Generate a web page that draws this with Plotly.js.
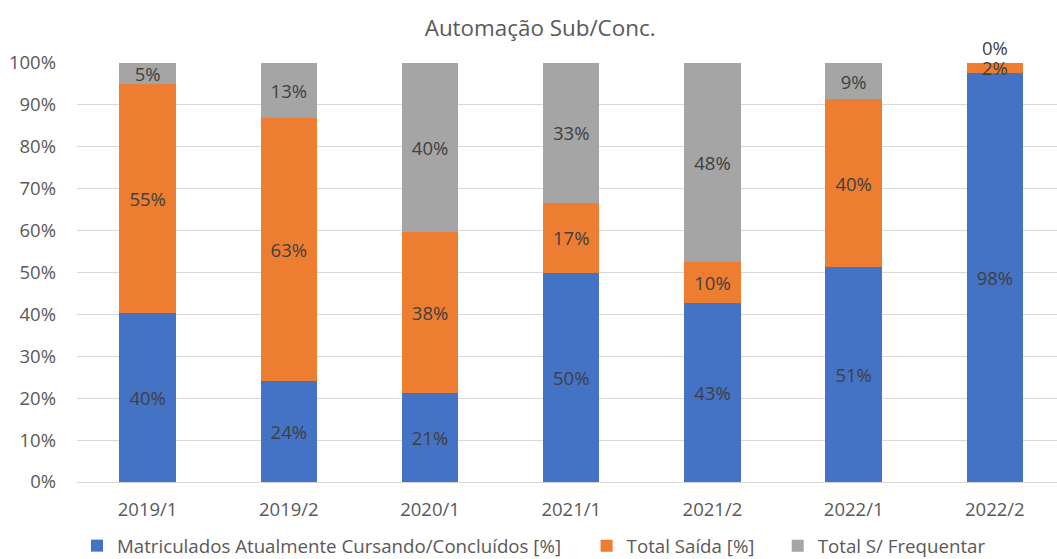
<!DOCTYPE html>
<html>
<head>
<meta charset="utf-8">
<script src="https://cdn.plot.ly/plotly-3.0.1.min.js"></script>
<style>html,body{margin:0;padding:0;background:#fff}#chart{width:1057px;height:559px}</style>
</head>
<body>
<div id="chart"></div>
<script>
const categories = ["2019/1", "2019/2", "2020/1", "2021/1", "2021/2", "2022/1", "2022/2"];
const matriculados = [0.404, 0.24, 0.213, 0.50, 0.427, 0.514, 0.977];
const saida = [0.547, 0.629, 0.383, 0.167, 0.097, 0.399, 0.023];
const semFrequentar = [0.049, 0.131, 0.404, 0.333, 0.476, 0.087, 0.0];
const seriesNames = ["Matriculados Atualmente Cursando/Concluídos [%]", "Total Saída [%]", "Total S/ Frequentar"];
const colors = ["#4472C4", "#ED7D31", "#A5A5A5"];

const font = "'Open Sans', sans-serif";
const legendIds = ["legend", "legend2", "legend3"];
const data = [matriculados, saida, semFrequentar].map((vals, i) => ({
  type: "bar",
  name: seriesNames[i],
  legend: legendIds[i],
  x: categories,
  y: vals,
  width: 0.4,
  marker: {color: colors[i]},
  texttemplate: "%{y:.0%}",
  textposition: vals.map(v => v === 0 ? "outside" : "inside"),
  insidetextanchor: "middle",
  textangle: 0,
  constraintext: "none",
  cliponaxis: false,
  textfont: {family: font, size: 18.5, color: "#404040"},
  outsidetextfont: {family: font, size: 18.5, color: "#404040"},
  hoverinfo: "skip"
}));

const legendBase = {orientation: "h", xanchor: "left", yref: "container", y: 0.0233, yanchor: "middle",
  font: {family: font, size: 18.7, color: "#595959"}, itemwidth: 30, bgcolor: "rgba(0,0,0,0)"};

const layout = {
  width: 1057, height: 559,
  barmode: "stack",
  margin: {l: 77, r: 0, t: 63, b: 77},
  paper_bgcolor: "#fff", plot_bgcolor: "#fff",
  title: {text: "Automação Sub/Conc.", x: 0.511, xanchor: "center", y: 0.95, yanchor: "middle",
          font: {family: font, size: 22.4, color: "#595959"}},
  xaxis: {range: [-0.5, 6.44], showgrid: false, zeroline: false, showline: false, automargin: false,
          tickfont: {family: font, size: 18.5, color: "#595959"}, ticks: "", ticklabelstandoff: 14},
  yaxis: {range: [0, 1], tickformat: ".0%", dtick: 0.1, showgrid: true, gridcolor: "#d9d9d9", automargin: false,
          zeroline: true, zerolinecolor: "#d9d9d9", showline: false,
          tickfont: {family: font, size: 18.5, color: "#595959"}, ticks: "", ticklabelstandoff: 20},
  legend: Object.assign({}, legendBase, {x: 0.0}),
  legend2: Object.assign({}, legendBase, {x: 0.520}),
  legend3: Object.assign({}, legendBase, {x: 0.715}),
  showlegend: true
};

Plotly.newPlot("chart", data, layout, {displayModeBar: false, staticPlot: true});
</script>
</body>
</html>
